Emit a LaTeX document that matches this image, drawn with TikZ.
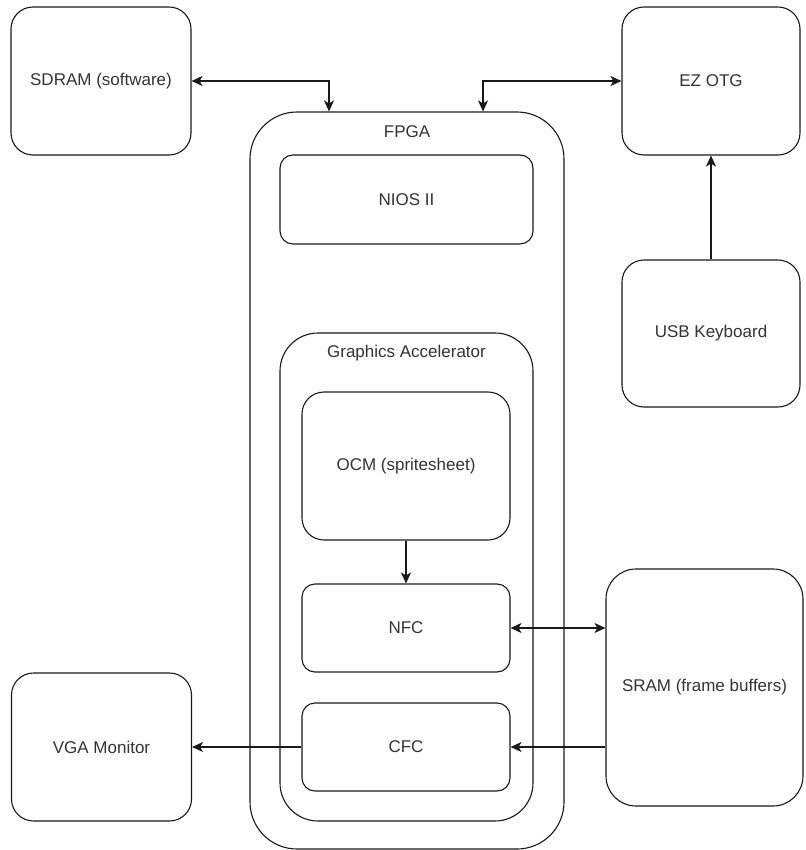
\documentclass[tikz,border=0pt]{standalone}
\usepackage{fontspec}
\setmainfont{Liberation Sans}
\usetikzlibrary{arrows.meta,positioning}

\tikzset{
  blk/.style={draw=black!90, line width=1.1pt, rounded corners=#1,
    inner sep=0pt, align=center, text=black!80,
    font=\fontsize{17}{20}\selectfont},
  blk/.default=22pt,
  lbl/.style={text=black!80, font=\fontsize{17}{20}\selectfont},
  conn/.style={line width=1.1pt, draw=black!90,
    -{Stealth[length=11pt,width=10pt,inset=3pt]}},
  biconn/.style={line width=1.1pt, draw=black!90,
    {Stealth[length=11pt,width=10pt,inset=3pt]}-{Stealth[length=11pt,width=10pt,inset=3pt]}},
}

\begin{document}
\begin{tikzpicture}[x=1pt,y=-1pt]
\useasboundingbox (0,0) rectangle (805,850);

% the board itself
\node[blk=47pt, minimum width=314pt, minimum height=737pt] (fpga) at (407,480.5) {};
\node[lbl] (fpgalbl) at (407,132) {FPGA};

\node[blk=13pt, minimum width=253pt, minimum height=89pt] (nios) at (406.5,199.5) {NIOS II};

\node[blk=38pt, minimum width=253pt, minimum height=488pt] (gfxacc) at (406.5,577) {};
\node[lbl] (gfxlbl) at (406.5,353) {Graphics Accelerator};

\node[blk, minimum width=208pt, minimum height=148pt] (ocm) at (406,466) {OCM (spritesheet)};
\node[blk=13pt, minimum width=208pt, minimum height=88pt] (nfc) at (406,628) {NFC};
\node[blk=13pt, minimum width=208pt, minimum height=88pt] (cfc) at (406,747) {CFC};

% off-chip parts
\node[blk, minimum width=180pt, minimum height=148pt] (sdram) at (101,81) {SDRAM (software)};
\node[blk, minimum width=178pt, minimum height=148pt] (ezotg) at (711,81) {EZ OTG};
\node[blk, minimum width=178pt, minimum height=147pt] (usbkbd) at (711,333.5) {USB Keyboard};
\node[blk=30pt, minimum width=197pt, minimum height=237pt] (sram) at (704.5,687.5) {SRAM (frame buffers)};
\node[blk, minimum width=180pt, minimum height=148pt] (vga) at (101.5,747) {VGA Monitor};

% buses
\draw[biconn] (sdram.east) -| ([xshift=-78pt]fpga.north);
\draw[biconn] ([xshift=76pt]fpga.north) |- (ezotg.west);
\draw[conn] (usbkbd.north) -- (ezotg.south);
\draw[conn] (ocm.south) -- (nfc.north);
\draw[biconn] (nfc.east) -- (nfc.east -| sram.west);
\draw[conn] (cfc.east -| sram.west) -- (cfc.east);
\draw[conn] (cfc.west) -- (vga.east);
\end{tikzpicture}
\end{document}
